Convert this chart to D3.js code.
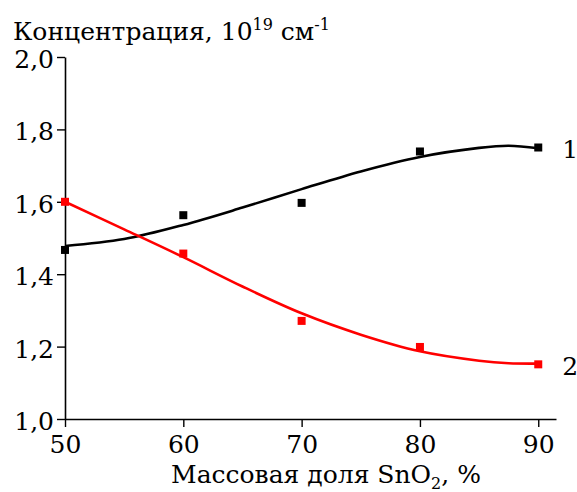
<!DOCTYPE html>
<html>
<head>
<meta charset="utf-8">
<script src="https://cdn.jsdelivr.net/npm/d3@7"></script>
<style>
  body { margin: 0; background: #fff; }
</style>
</head>
<body>
<div id="chart"></div>
<script>
var w = 577,
    h = 492,
    m = [57, 22, 73, 65]; // top right bottom left
var font = "DejaVu Serif, serif";
var fs = "25px", fsSmall = "16px";

// measured points
var massShare = [50, 60, 70, 80, 90];
var conc1 = [1.467, 1.563, 1.597, 1.739, 1.750];
var conc2 = [1.600, 1.457, 1.271, 1.199, 1.151];

// fitted curves
var fitX = [50, 55, 60, 65, 70, 75, 80, 85, 87.5, 90];
var fit1 = [1.478, 1.497, 1.536, 1.584, 1.635, 1.684, 1.724, 1.749, 1.755, 1.748];
var fit2 = [1.600, 1.524, 1.447, 1.366, 1.292, 1.233, 1.187, 1.161, 1.154, 1.153];

var xTicks = [50, 60, 70, 80, 90];
var yTicks = [1.0, 1.2, 1.4, 1.6, 1.8, 2.0];
var seriesLabels = ["1", "2"];

var x = d3.scaleLinear().domain([50, 91.5]).range([0, 491]);
var y = d3.scaleLinear().domain([1.0, 2.0]).range([362, 0]);

var svg = d3.select("#chart").append("svg")
    .attr("width", w)
    .attr("height", h)
    .style("font-family", font);

var g = svg.append("g")
    .attr("transform", "translate(" + m[3] + "," + m[0] + ")");

var fmt = function(d) { return d3.format(".1f")(d).replace(".", ","); };

// x axis: major + minor ticks pointing down
var xAxis = g.append("g")
    .attr("transform", "translate(0," + y(1.0) + ")")
    .call(d3.axisBottom(x).tickValues(d3.range(55, 91, 10)).tickSize(5).tickFormat(""));
xAxis.call(d3.axisBottom(x).tickValues(xTicks).tickSize(8).tickSizeOuter(0).tickPadding(8).tickFormat(d3.format("d")));

// y axis
var yAxis = g.append("g")
    .call(d3.axisLeft(y).tickValues(d3.range(1.1, 2.0, 0.2)).tickSize(5).tickFormat(""));
yAxis.call(d3.axisLeft(y).tickValues(yTicks).tickSize(8).tickSizeOuter(0).tickPadding(3).tickFormat(fmt));

g.selectAll(".domain").attr("stroke-width", 1.6);
g.selectAll(".tick line").attr("stroke-width", 1.4);
xAxis.attr("font-family", null);
yAxis.attr("font-family", null);
g.selectAll(".tick text")
    .style("font-size", fs)
    .attr("fill", "#000");
xAxis.selectAll(".tick text").attr("dy", "0.71em");
yAxis.selectAll(".tick text").attr("dy", "0.42em");

var line = d3.line()
    .x(function(d) { return x(d[0]); })
    .y(function(d) { return y(d[1]); })
    .curve(d3.curveCatmullRom);

var fits = [
  { pts: d3.zip(fitX, fit1), color: "#000" },
  { pts: d3.zip(fitX, fit2), color: "#ff0000" }
];
var points = [
  { pts: d3.zip(massShare, conc1), color: "#000" },
  { pts: d3.zip(massShare, conc2), color: "#ff0000" }
];

g.selectAll("path.fit")
    .data(fits)
  .enter().append("path")
    .attr("class", "fit")
    .attr("fill", "none")
    .attr("stroke", function(d) { return d.color; })
    .attr("stroke-width", 2.6)
    .attr("d", function(d) { return line(d.pts); });

var ms = 8;
points.forEach(function(s) {
  g.selectAll(null)
      .data(s.pts)
    .enter().append("rect")
      .attr("x", function(d) { return x(d[0]) - ms / 2; })
      .attr("y", function(d) { return y(d[1]) - ms / 2; })
      .attr("width", ms)
      .attr("height", ms)
      .attr("fill", s.color);
});

// series numbers at right end
g.selectAll("text.series")
    .data([conc1[4], conc2[4]])
  .enter().append("text")
    .attr("class", "series")
    .attr("x", x(90) + 24)
    .attr("y", function(d) { return y(d); })
    .attr("dy", "0.42em")
    .style("font-size", fs)
    .text(function(d, i) { return seriesLabels[i]; });

// y title
var yt = svg.append("text")
    .attr("x", 13)
    .attr("y", 40)
    .style("font-size", fs);
yt.append("tspan").text("Концентрация, 10");
yt.append("tspan").attr("dy", -10).style("font-size", fsSmall).text("19");
yt.append("tspan").attr("dy", 10).text(" см");
yt.append("tspan").attr("dy", -10).style("font-size", fsSmall).text("-1");

// x title
var xt = svg.append("text")
    .attr("x", 326)
    .attr("y", 483)
    .attr("text-anchor", "middle")
    .style("font-size", fs);
xt.append("tspan").text("Массовая доля SnO");
xt.append("tspan").attr("dy", 6).style("font-size", fsSmall).text("2");
xt.append("tspan").attr("dy", -6).text(", %");
</script>
</body>
</html>
